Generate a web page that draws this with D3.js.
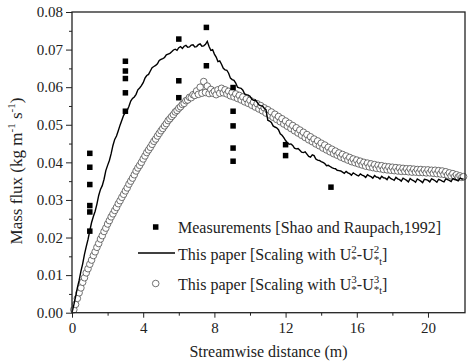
<!DOCTYPE html>
<html><head><meta charset="utf-8">
<script src="https://cdn.jsdelivr.net/npm/d3@7"></script>
<style>body{margin:0;background:#fff;}svg{display:block;}svg text{font-family:"Liberation Serif","Times New Roman",serif !important;}</style>
</head><body><svg id="c" width="474" height="364"></svg>
<script>
// Measurements [Shao and Raupach, 1992]
const measX = [1,1,1,1,1,1, 3,3,3,3,3, 6,6,6, 7.55,7.55, 9.05,9.05,9.05,9.05,9.05, 12,12, 14.55];
const measY = [0.0424,0.0387,0.0341,0.0285,0.0268,0.0217, 0.0669,0.0643,0.0623,0.0585,0.0536, 0.0728,0.0617,0.0572, 0.0759,0.0657, 0.0599,0.0536,0.0497,0.0438,0.0403, 0.0447,0.0418, 0.0334];

// This paper, scaling with U*^2 - U*t^2 (solid line)
const lineX = [0,0.1,0.2,0.3,0.4,0.5,0.6,0.7,0.8,0.9,1.0,1.1,1.2,1.3,1.4,1.5,1.6,1.7,1.8,1.9,2.0,2.1,2.2,2.3,2.4,2.5,2.6,2.7,2.8,2.9,3.0,3.1,3.2,3.3,3.4,3.5,3.6,3.7,3.8,3.9,4.0,4.1,4.2,4.3,4.4,4.5,4.6,4.7,4.8,4.9,5.0,5.1,5.2,5.3,5.4,5.5,5.6,5.7,5.8,5.9,6.0,6.1,6.2,6.3,6.4,6.5,6.6,6.7,6.8,6.9,7.0,7.1,7.2,7.3,7.4,7.5,7.6,7.7,7.8,7.9,8.0,8.1,8.2,8.3,8.4,8.5,8.6,8.7,8.8,8.9,9.0,9.1,9.2,9.3,9.4,9.5,9.6,9.7,9.8,9.9,10.0,10.1,10.2,10.3,10.4,10.5,10.6,10.7,10.8,10.9,11.0,11.1,11.2,11.3,11.4,11.5,11.6,11.7,11.8,11.9,12.0,12.1,12.2,12.3,12.4,12.5,12.6,12.7,12.8,12.9,13.0,13.1,13.2,13.3,13.4,13.5,13.6,13.7,13.8,13.9,14.0,14.1,14.2,14.3,14.4,14.5,14.6,14.7,14.8,14.9,15.0,15.1,15.2,15.3,15.4,15.5,15.6,15.7,15.8,15.9,16.0,16.1,16.2,16.3,16.4,16.5,16.6,16.7,16.8,16.9,17.0,17.1,17.2,17.3,17.4,17.5,17.6,17.7,17.8,17.9,18.0,18.1,18.2,18.3,18.4,18.5,18.6,18.7,18.8,18.9,19.0,19.1,19.2,19.3,19.4,19.5,19.6,19.7,19.8,19.9,20.0,20.1,20.2,20.3,20.4,20.5,20.6,20.7,20.8,20.9,21.0,21.1,21.2,21.3,21.4,21.5,21.6,21.7,21.8,21.9,22.0];
const lineY = [0.0000,0.0020,0.0042,0.0066,0.0086,0.0110,0.0130,0.0155,0.0176,0.0195,0.0218,0.0240,0.0256,0.0270,0.0289,0.0312,0.0328,0.0338,0.0355,0.0378,0.0392,0.0405,0.0423,0.0445,0.0461,0.0470,0.0484,0.0499,0.0512,0.0525,0.0533,0.0538,0.0549,0.0563,0.0570,0.0574,0.0581,0.0593,0.0598,0.0604,0.0612,0.0624,0.0631,0.0634,0.0643,0.0652,0.0655,0.0658,0.0662,0.0671,0.0674,0.0676,0.0679,0.0686,0.0688,0.0690,0.0694,0.0699,0.0701,0.0698,0.0705,0.0708,0.0703,0.0709,0.0711,0.0706,0.0707,0.0712,0.0713,0.0707,0.0708,0.0713,0.0715,0.0709,0.0710,0.0714,0.0722,0.0708,0.0698,0.0700,0.0688,0.0680,0.0668,0.0670,0.0661,0.0650,0.0646,0.0645,0.0637,0.0624,0.0620,0.0618,0.0611,0.0600,0.0598,0.0597,0.0592,0.0582,0.0580,0.0579,0.0576,0.0568,0.0565,0.0566,0.0560,0.0553,0.0551,0.0550,0.0544,0.0540,0.0512,0.0510,0.0506,0.0497,0.0494,0.0492,0.0487,0.0476,0.0472,0.0466,0.0458,0.0452,0.0448,0.0449,0.0445,0.0438,0.0436,0.0437,0.0432,0.0427,0.0426,0.0428,0.0422,0.0416,0.0414,0.0420,0.0418,0.0409,0.0406,0.0405,0.0402,0.0400,0.0397,0.0391,0.0392,0.0389,0.0386,0.0384,0.0383,0.0379,0.0378,0.0377,0.0374,0.0371,0.0376,0.0372,0.0370,0.0366,0.0372,0.0369,0.0366,0.0364,0.0369,0.0366,0.0364,0.0360,0.0367,0.0364,0.0362,0.0358,0.0365,0.0361,0.0360,0.0356,0.0363,0.0359,0.0358,0.0354,0.0362,0.0357,0.0355,0.0352,0.0360,0.0356,0.0354,0.0350,0.0358,0.0355,0.0352,0.0348,0.0357,0.0353,0.0351,0.0347,0.0356,0.0353,0.0350,0.0346,0.0355,0.0354,0.0352,0.0348,0.0356,0.0354,0.0351,0.0347,0.0355,0.0353,0.0350,0.0348,0.0356,0.0354,0.0352,0.0349,0.0357,0.0355,0.0353,0.0351,0.0358,0.0356,0.0356];

// This paper, scaling with U*^3 - U*t^3 (open circles)
const circX = [0.1,0.2,0.3,0.4,0.5,0.6,0.7,0.8,0.9,1.0,1.1,1.2,1.3,1.4,1.5,1.6,1.7,1.8,1.9,2.0,2.1,2.2,2.3,2.4,2.5,2.6,2.7,2.8,2.9,3.0,3.1,3.2,3.3,3.4,3.5,3.6,3.7,3.8,3.9,4.0,4.1,4.2,4.3,4.4,4.5,4.6,4.7,4.8,4.9,5.0,5.1,5.2,5.3,5.4,5.5,5.6,5.7,5.8,5.9,6.0,6.1,6.2,6.3,6.4,6.5,6.6,6.7,6.8,6.9,7.0,7.1,7.2,7.3,7.4,7.5,7.6,7.7,7.8,7.9,8.0,8.1,8.2,8.3,8.4,8.5,8.6,8.7,8.8,8.9,9.0,9.1,9.2,9.3,9.4,9.5,9.6,9.7,9.8,9.9,10.0,10.1,10.2,10.3,10.4,10.5,10.6,10.7,10.8,10.9,11.0,11.1,11.2,11.3,11.4,11.5,11.6,11.7,11.8,11.9,12.0,12.1,12.2,12.3,12.4,12.5,12.6,12.7,12.8,12.9,13.0,13.1,13.2,13.3,13.4,13.5,13.6,13.7,13.8,13.9,14.0,14.1,14.2,14.3,14.4,14.5,14.6,14.7,14.8,14.9,15.0,15.1,15.2,15.3,15.4,15.5,15.6,15.7,15.8,15.9,16.0,16.1,16.2,16.3,16.4,16.5,16.6,16.7,16.8,16.9,17.0,17.1,17.2,17.3,17.4,17.5,17.6,17.7,17.8,17.9,18.0,18.1,18.2,18.3,18.4,18.5,18.6,18.7,18.8,18.9,19.0,19.1,19.2,19.3,19.4,19.5,19.6,19.7,19.8,19.9,20.0,20.1,20.2,20.3,20.4,20.5,20.6,20.7,20.8,20.9,21.0,21.1,21.2,21.3,21.4,21.5,21.6,21.7,21.8,21.9,22.0];
const circY = [0.0008,0.0022,0.0038,0.0053,0.0066,0.0081,0.0093,0.0106,0.0117,0.0129,0.0140,0.0152,0.0162,0.0174,0.0184,0.0196,0.0205,0.0216,0.0225,0.0236,0.0245,0.0255,0.0263,0.0272,0.0280,0.0290,0.0298,0.0307,0.0315,0.0324,0.0332,0.0342,0.0350,0.0358,0.0367,0.0377,0.0385,0.0392,0.0400,0.0409,0.0417,0.0426,0.0433,0.0440,0.0448,0.0456,0.0462,0.0470,0.0477,0.0484,0.0490,0.0497,0.0503,0.0511,0.0516,0.0522,0.0527,0.0534,0.0538,0.0544,0.0548,0.0554,0.0557,0.0564,0.0566,0.0573,0.0572,0.0580,0.0578,0.0590,0.0581,0.0600,0.0584,0.0615,0.0586,0.0603,0.0583,0.0594,0.0584,0.0589,0.0580,0.0593,0.0584,0.0597,0.0585,0.0593,0.0582,0.0589,0.0577,0.0586,0.0574,0.0582,0.0570,0.0578,0.0566,0.0574,0.0561,0.0569,0.0557,0.0565,0.0552,0.0560,0.0547,0.0556,0.0542,0.0551,0.0537,0.0545,0.0531,0.0540,0.0526,0.0534,0.0520,0.0528,0.0514,0.0522,0.0508,0.0516,0.0502,0.0510,0.0496,0.0504,0.0490,0.0498,0.0484,0.0492,0.0478,0.0486,0.0472,0.0480,0.0466,0.0474,0.0460,0.0468,0.0455,0.0462,0.0449,0.0457,0.0444,0.0451,0.0438,0.0446,0.0433,0.0440,0.0428,0.0435,0.0423,0.0430,0.0419,0.0425,0.0414,0.0421,0.0410,0.0417,0.0406,0.0413,0.0402,0.0409,0.0399,0.0406,0.0396,0.0403,0.0393,0.0400,0.0390,0.0398,0.0388,0.0396,0.0386,0.0394,0.0384,0.0392,0.0383,0.0391,0.0381,0.0389,0.0380,0.0388,0.0379,0.0387,0.0378,0.0386,0.0377,0.0385,0.0376,0.0384,0.0376,0.0383,0.0375,0.0383,0.0374,0.0382,0.0374,0.0381,0.0373,0.0381,0.0373,0.0380,0.0372,0.0380,0.0372,0.0379,0.0371,0.0379,0.0370,0.0378,0.0369,0.0377,0.0368,0.0375,0.0366,0.0372,0.0364,0.0370,0.0362,0.0367,0.0361,0.0364,0.0360,0.0362];

const xTicks = [0,4,8,12,16,20];
const xMinor = [2,6,10,14,18];
const yTicks = [0,0.01,0.02,0.03,0.04,0.05,0.06,0.07,0.08];
const yMinor = [0.005,0.015,0.025,0.035,0.045,0.055,0.065,0.075];

const svg = d3.select("#c");
const L = 72, R = 465, T = 12, B = 312.7;
const x = d3.scaleLinear().domain([0, 22.08]).range([L, R]);
const y = d3.scaleLinear().domain([0, 0.08]).range([B, T]);
const ink = "#222";

// circles
svg.append("g").selectAll("circle").data(circX).join("circle")
  .attr("cx", (d) => x(d)).attr("cy", (d, i) => y(circY[i])).attr("r", 3.3)
  .attr("fill", "#fff").attr("stroke", "#444").attr("stroke-width", 0.75);

// line
const lineGen = d3.line().x((d) => x(d[0])).y((d) => y(d[1]));
svg.append("path").datum(lineX.map((d, i) => [d, lineY[i]]))
  .attr("d", lineGen).attr("fill", "none").attr("stroke", "#000").attr("stroke-width", 1.4);

// squares
const sq = 5.5;
svg.append("g").selectAll("rect").data(measX).join("rect")
  .attr("x", (d) => x(d) - sq / 2).attr("y", (d, i) => y(measY[i]) - sq / 2)
  .attr("width", sq).attr("height", sq).attr("fill", "#000");

// axes
svg.append("g").attr("transform", `translate(0,${B})`)
  .call(d3.axisBottom(x).tickValues(xTicks).tickSize(5).tickPadding(5).tickFormat(d3.format("d")));
svg.append("g").attr("transform", `translate(0,${B})`)
  .call(d3.axisBottom(x).tickValues(xMinor).tickSize(3).tickFormat(""));
svg.append("g").attr("transform", `translate(${L},0)`)
  .call(d3.axisLeft(y).tickValues(yTicks).tickSize(6).tickPadding(3).tickFormat(d3.format(".2f")));
svg.append("g").attr("transform", `translate(${L},0)`)
  .call(d3.axisLeft(y).tickValues(yMinor).tickSize(3).tickFormat(""));
svg.selectAll(".domain").remove();
svg.selectAll(".tick line").attr("stroke", ink).attr("stroke-width", 1);
svg.selectAll(".tick text").attr("font-size", 15).attr("fill", "#222");

// frame
svg.append("rect").attr("x", L).attr("y", T).attr("width", R - L).attr("height", B - T)
  .attr("fill", "none").attr("stroke", ink).attr("stroke-width", 1.3);

// axis titles
svg.append("text").attr("x", (L + R) / 2).attr("y", 357).attr("text-anchor", "middle")
  .attr("font-size", 16).attr("fill", "#222").text("Streamwise distance (m)");
const yt = svg.append("text").attr("transform", "translate(21.5,171) rotate(-90)")
  .attr("text-anchor", "middle").attr("font-size", 17).attr("fill", "#222");
yt.append("tspan").text("Mass flux (kg m");
yt.append("tspan").attr("dy", -7).attr("font-size", 11).text("-1");
yt.append("tspan").attr("dy", 7).text(" s");
yt.append("tspan").attr("dy", -7).attr("font-size", 11).text("-1");
yt.append("tspan").attr("dy", 7).text(")");

// legend
const lg = svg.append("g").attr("font-size", 16).attr("fill", "#222");
lg.append("rect").attr("x", 155.7 - sq / 2).attr("y", 227 - sq / 2).attr("width", sq).attr("height", sq).attr("fill", "#000");
lg.append("text").attr("x", 178).attr("y", 233).text("Measurements [Shao and Raupach,1992]");
lg.append("line").attr("x1", 138).attr("x2", 175).attr("y1", 253).attr("y2", 253).attr("stroke", "#000").attr("stroke-width", 1.4);
lg.append("circle").attr("cx", 155.7).attr("cy", 283.5).attr("r", 3.3).attr("fill", "#fff").attr("stroke", "#444").attr("stroke-width", 0.75);

function uLabel(yy, p) {
  const t = lg.append("text").attr("x", 178).attr("y", yy);
  t.append("tspan").text("This paper [Scaling with U");
  t.append("tspan").attr("dy", -7).attr("font-size", 11).text(p);
  t.append("tspan").attr("dx", -5.5).attr("dy", 10).attr("font-size", 11).text("*");
  t.append("tspan").attr("dy", -3).text("-U");
  t.append("tspan").attr("dy", -7).attr("font-size", 11).text(p);
  t.append("tspan").attr("dx", -5.5).attr("dy", 10).attr("font-size", 11).text("*");
  t.append("tspan").attr("dy", 1.5).attr("font-size", 10).text("t");
  t.append("tspan").attr("dy", -4.5).text("]");
}
uLabel(260, "2");
uLabel(289.5, "3");
</script></body></html>
